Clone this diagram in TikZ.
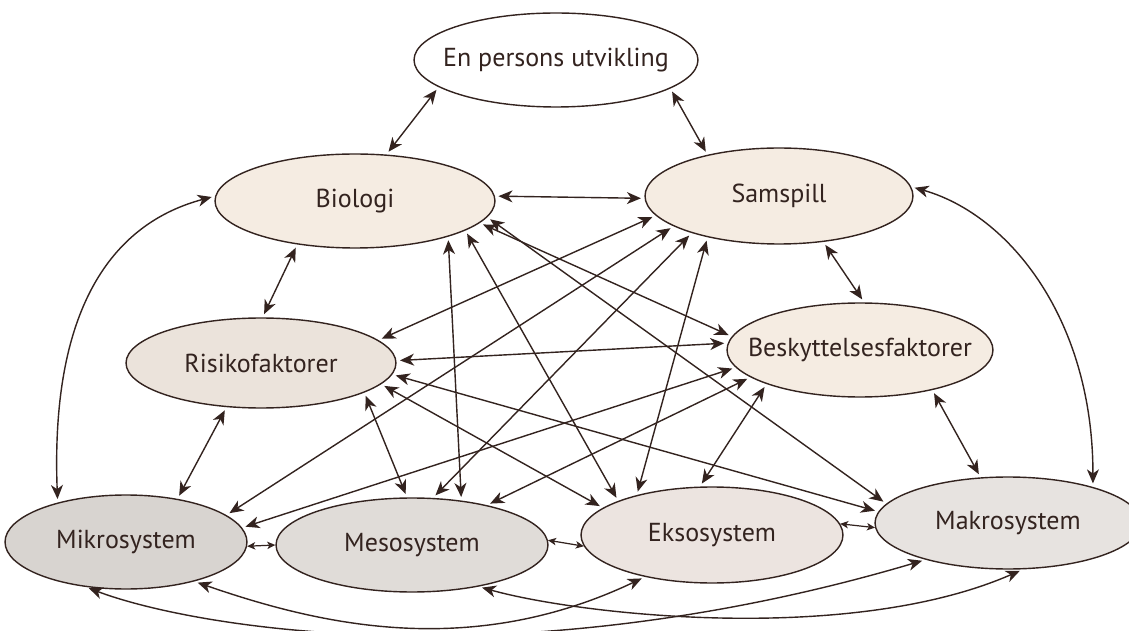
\documentclass[tikz,border=0pt]{standalone}
\usepackage{fontspec}
\setmainfont{PT Sans}
\usetikzlibrary{shapes.geometric,arrows.meta}

\definecolor{marrom}{HTML}{33231F}
\definecolor{bege}{HTML}{F5ECE2}
\definecolor{begeescuro}{HTML}{EBE3DB}
\definecolor{cinza}{HTML}{D8D4D0}
\definecolor{cinzaclaro}{HTML}{E0DCD8}
\definecolor{rosado}{HTML}{ECE4E0}
\definecolor{cinzamakro}{HTML}{E7E3E0}

\begin{document}
\begin{tikzpicture}[x=0.02cm, y=-0.02cm,
        elipse/.style={ellipse, draw=marrom, line width=0.8pt, inner xsep=-30pt, inner ysep=0pt,
            text=marrom, font=\fontsize{14.8}{17}\selectfont},
        seta/.style={<->, >={Stealth[length=8pt, width=6.8pt, inset=2.4pt]}, draw=marrom,
            line width=0.8pt, shorten <=2pt, shorten >=2pt},
        setinha/.style={<->, >={Stealth[length=4.6pt, width=4.2pt, inset=1.2pt]}, draw=marrom, line width=0.7pt}]
        \useasboundingbox (0,0) rectangle (1129,631);
        \clip (0,0) rectangle (1129,631);

        % Nós
        \node[elipse, fill=white, minimum width=5.68cm, minimum height=1.88cm] (pessoa) at (556,60) {En persons utvikling};
        \node[elipse, fill=bege, minimum width=5.6cm, minimum height=1.88cm] (biologi) at (355,201) {Biologi};
        \node[elipse, fill=bege, minimum width=5.36cm, minimum height=1.92cm] (samspill) at (779,196) {Samspill};
        \node[elipse, fill=begeescuro, minimum width=5.4cm, minimum height=1.8cm] (risiko) at (261,363) {Risikofaktorer};
        \node[elipse, fill=bege, minimum width=5.32cm, minimum height=1.88cm] (beskytt) at (860,350) {Beskyttelsesfaktorer};
        \node[elipse, fill=cinza, minimum width=4.84cm, minimum height=1.88cm] (mikro) at (126,542) {Mikrosystem};
        \node[elipse, fill=cinzaclaro, minimum width=5.44cm, minimum height=1.88cm] (meso) at (412,545) {Mesosystem};
        \node[elipse, fill=rosado, minimum width=5.24cm, minimum height=1.92cm] (ekso) at (712,535) {Eksosystem};
        \node[elipse, fill=cinzamakro, minimum width=5.32cm, minimum height=1.84cm] (makro) at (1008,523) {Makrosystem};

        % Setas de cima
        \draw[seta] (pessoa.-167) -- (biologi.56);
        \draw[seta] (pessoa.-14) -- (samspill.150);
        \draw[seta] (biologi.2) -- (samspill.181);
        \draw[seta] (biologi.-143) -- (risiko.88);
        \draw[seta] (samspill.-46) -- (beskytt.85);
        \draw[seta] (risiko.-128) -- (mikro.40);
        \draw[seta] (beskytt.-29) -- (makro.121);

        % Curvas dos lados
        \draw[seta] (mikro.150) .. controls (50,300) and (118,222) .. (biologi.178);
        \draw[seta] (samspill.4) .. controls (1010,215) and (1093,320) .. (makro.23);

        % Setas cruzadas
        \draw[seta] (biologi.-21) -- (meso.42);
        \draw[seta] (biologi.-15) -- (ekso.160);
        \draw[seta] (biologi.-10) -- (beskytt.174);
        \draw[seta] (biologi.-7) -- (makro.171);
        \draw[seta] (samspill.189) -- (risiko.11);
        \draw[seta] (samspill.196) -- (mikro.15);
        \draw[seta] (samspill.203) -- (meso.66);
        \draw[seta] (samspill.210) -- (ekso.152);
        \draw[seta] (risiko.1) -- (beskytt.177);
        \draw[seta] (risiko.-5) -- (makro.175);
        \draw[seta] (risiko.-10) -- (ekso.166);
        \draw[seta] (risiko.-16) -- (meso.96);
        \draw[seta] (beskytt.188) -- (mikro.7);
        \draw[seta] (beskytt.194) -- (meso.28);
        \draw[seta] (beskytt.200) -- (ekso.104);

        % Sistemas
        \draw[setinha] (mikro.-2) -- (meso.180);
        \draw[setinha] (meso.2) -- (ekso.185);
        \draw[setinha] (ekso.5) -- (makro.182);

        % Curvas de baixo
        \draw[seta] (mikro.-132) .. controls (200,630) and (520,680) .. (makro.-156);
        \draw[seta] (mikro.-30) .. controls (320,625) and (470,660) .. (ekso.-148);
        \draw[seta] (meso.-32) .. controls (580,615) and (850,645) .. (makro.-72);
    \end{tikzpicture}
\end{document}
